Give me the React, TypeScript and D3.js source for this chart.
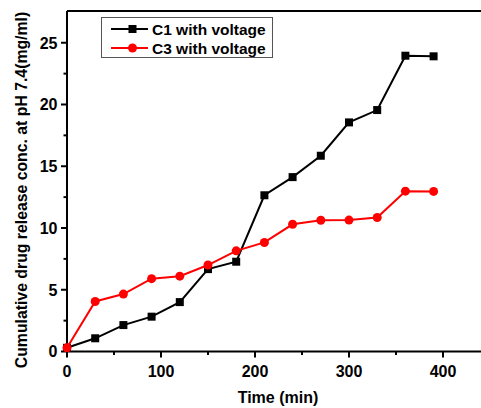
import React from "react";
import * as d3 from "d3";

const times = [0, 30, 60, 90, 120, 150, 180, 210, 240, 270, 300, 330, 360, 390];
const c1Values = [0.3, 1.07, 2.14, 2.82, 4.0, 6.67, 7.27, 12.65, 14.12, 15.85, 18.55, 19.55, 23.95, 23.9];
const c3Values = [0.3, 4.05, 4.65, 5.9, 6.1, 7.0, 8.15, 8.83, 10.3, 10.63, 10.64, 10.85, 12.98, 12.96];
const seriesNames = ["C1 with voltage", "C3 with voltage"];
const xTicks = [0, 100, 200, 300, 400];
const yTicks = [0, 5, 10, 15, 20, 25];
const xLabel = "Time (min)";
const yLabel = "Cumulative drug release conc. at pH 7.4(mg/ml)";

export default function App() {
  const W = 481, H = 408;
  const m = { left: 67, top: 11, right: 490, bottom: 351.5 };
  const x = d3.scaleLinear().domain([0, 450]).range([m.left, m.right]);
  const y = d3.scaleLinear().domain([0, 27.57]).range([m.bottom, m.top]);
  const line = d3.line<number>().x((_, i) => x(times[i])).y((d) => y(d));
  const font = "'Liberation Sans', Arial, sans-serif";
  const xMinor = d3.range(50, 450, 100);
  const yMinor = d3.range(2.5, 27.5, 5);
  return (
    <svg width={W} height={H} style={{ position: "absolute", left: 0, top: 0, background: "#fff" }} fontFamily={font}>
      {/* frame */}
      <line x1={m.left} x2={W + 5} y1={m.top} y2={m.top} stroke="#000" strokeWidth={2} />
      <line x1={m.left} x2={W + 5} y1={m.bottom} y2={m.bottom} stroke="#000" strokeWidth={2} />
      <line x1={m.left} x2={m.left} y1={m.top} y2={m.bottom} stroke="#000" strokeWidth={2} />
      {/* x ticks */}
      {xTicks.map((t) => (
        <g key={"xt" + t}>
          <line x1={x(t)} x2={x(t)} y1={m.bottom} y2={m.bottom + 6} stroke="#000" strokeWidth={2} />
          <text x={x(t)} y={377} textAnchor="middle" fontSize={16} fontWeight="bold">{t}</text>
        </g>
      ))}
      {xMinor.map((t) => (
        <line key={"xm" + t} x1={x(t)} x2={x(t)} y1={m.bottom} y2={m.bottom + 3.5} stroke="#000" strokeWidth={2} />
      ))}
      {/* y ticks */}
      {yTicks.map((t) => (
        <g key={"yt" + t}>
          <line x1={m.left - 6} x2={m.left} y1={y(t)} y2={y(t)} stroke="#000" strokeWidth={2} />
          <text x={m.left - 9.5} y={y(t) + 5.8} textAnchor="end" fontSize={16} fontWeight="bold">{t}</text>
        </g>
      ))}
      {yMinor.map((t) => (
        <line key={"ym" + t} x1={m.left - 3.5} x2={m.left} y1={y(t)} y2={y(t)} stroke="#000" strokeWidth={2} />
      ))}
      {/* series */}
      <path d={line(c1Values) || ""} fill="none" stroke="#000" strokeWidth={2} />
      {c1Values.map((v, i) => (
        <rect key={"c1" + i} x={x(times[i]) - 4} y={y(v) - 4} width={8} height={8} fill="#000" />
      ))}
      <path d={line(c3Values) || ""} fill="none" stroke="#f00" strokeWidth={2} />
      {c3Values.map((v, i) => (
        <circle key={"c3" + i} cx={x(times[i])} cy={y(v)} r={4.5} fill="#f00" />
      ))}
      {/* legend */}
      <rect x={101.5} y={17.5} width={171} height={40} fill="#fff" stroke="#555" strokeWidth={1} />
      <line x1={111} x2={148} y1={29} y2={29} stroke="#000" strokeWidth={2} />
      <rect x={128.5} y={25} width={8} height={8} fill="#000" />
      <text x={152} y={34.5} fontSize={15.5} fontWeight="bold">{seriesNames[0]}</text>
      <line x1={111} x2={148} y1={48} y2={48} stroke="#f00" strokeWidth={2} />
      <circle cx={132.5} cy={48} r={4.5} fill="#f00" />
      <text x={152} y={53.5} fontSize={15.5} fontWeight="bold">{seriesNames[1]}</text>
      {/* axis labels */}
      <text x={278} y={403} textAnchor="middle" fontSize={16} fontWeight="bold">{xLabel}</text>
      <text transform={`translate(27, 190) rotate(-90)`} textAnchor="middle" fontSize={15.8} fontWeight="bold">{yLabel}</text>
    </svg>
  );
}
